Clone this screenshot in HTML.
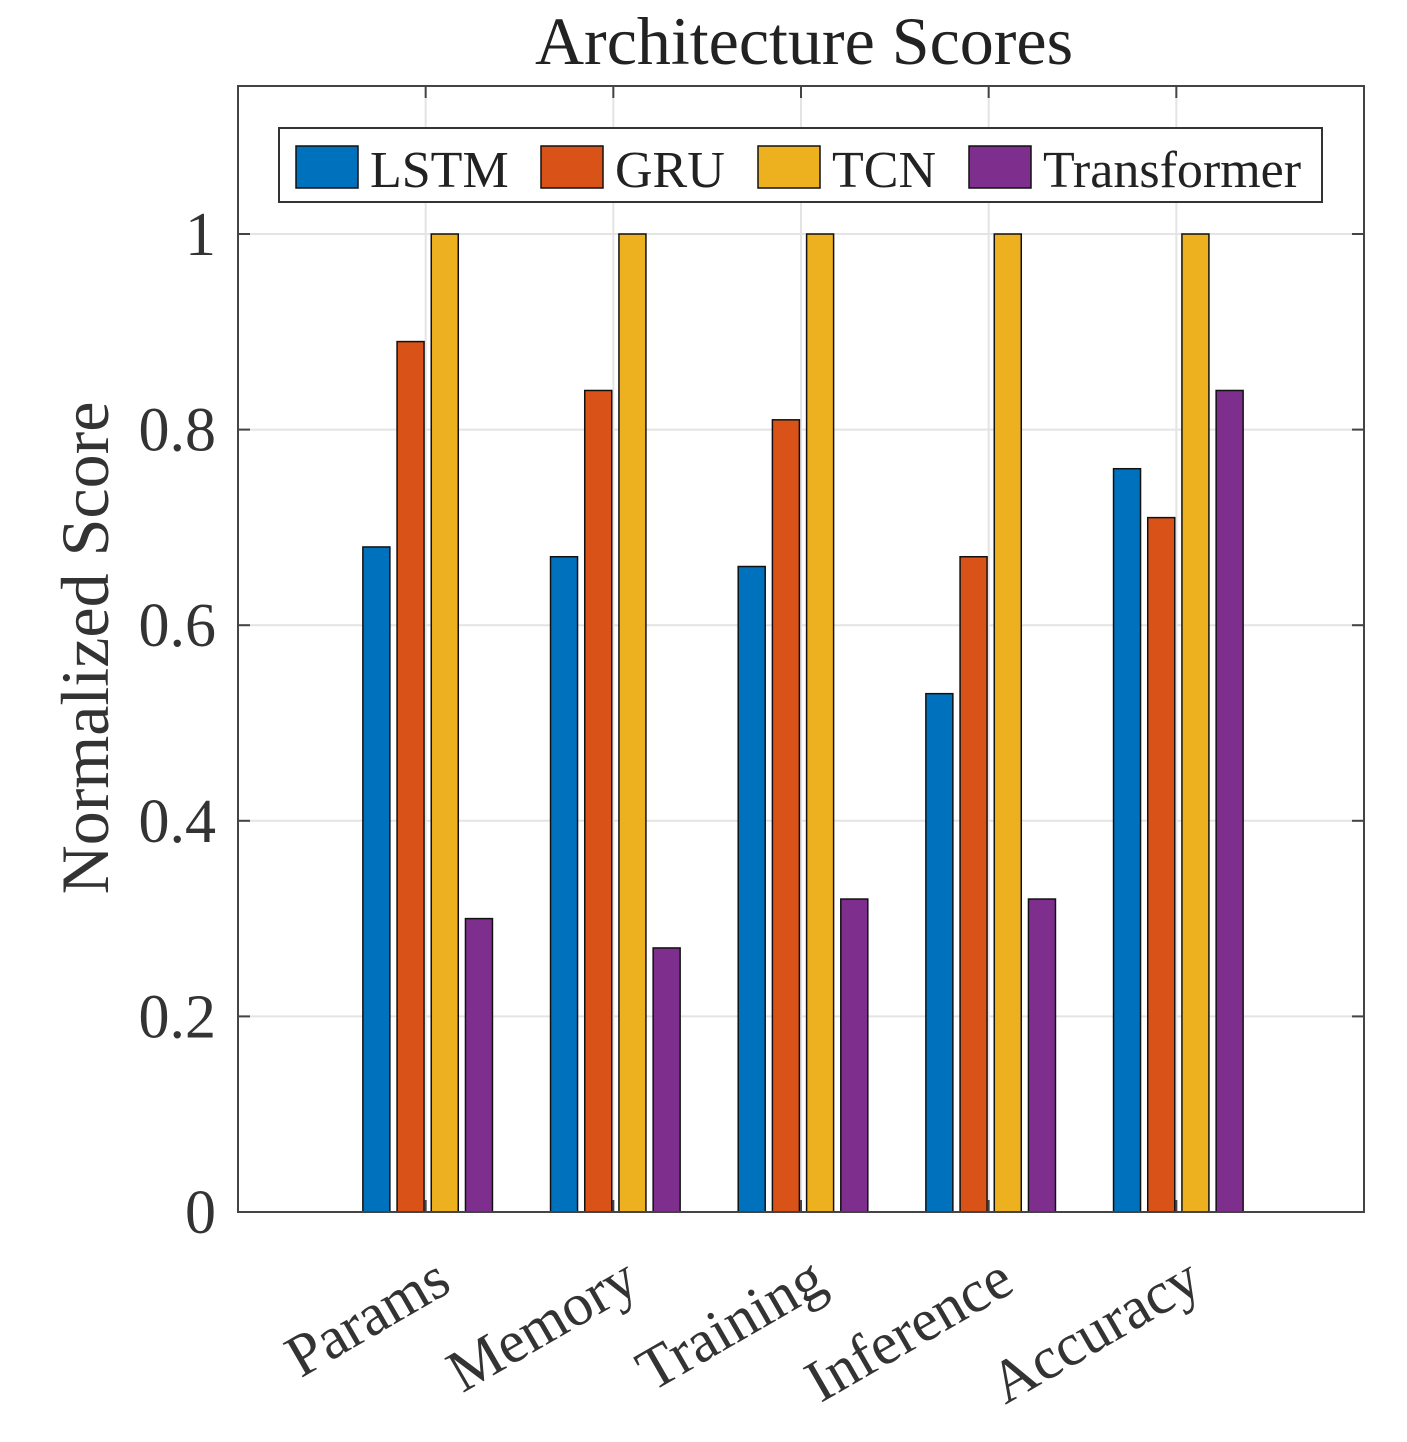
<!DOCTYPE html>
<html><head><meta charset="utf-8"><style>
html,body{margin:0;padding:0;background:#fff;}
svg{display:block;font-family:"Liberation Serif",serif;}
</style></head><body>
<svg id="chart" width="1407" height="1442" viewBox="0 0 1407 1442">
<text x="804" y="64" font-size="68" text-anchor="middle" fill="#222">Architecture Scores</text>
<g id="grid"></g>
<g id="bars"></g>
<g id="axes"></g>
<text transform="translate(108,648) rotate(-90)" font-size="68" text-anchor="middle" fill="#333">Normalized Score</text>
<g id="legend"></g>
</svg>
<script>
const categories = ["Params","Memory","Training","Inference","Accuracy"];
const seriesNames = ["LSTM","GRU","TCN","Transformer"];
const lstm = [0.68,0.67,0.66,0.53,0.76];
const gru = [0.89,0.84,0.81,0.67,0.71];
const tcn = [1,1,1,1,1];
const transformer = [0.30,0.27,0.32,0.32,0.84];
const yTicks = [0,0.2,0.4,0.6,0.8,1];
const yTickLabels = ["0","0.2","0.4","0.6","0.8","1"];
const colors = ["#0072BD","#D95319","#EDB120","#7E2F8E"];
const series = [lstm,gru,tcn,transformer];

const NS="http://www.w3.org/2000/svg";
const L=238,R=1364,T=86,B=1212;
const yMax=(B-T)/978;
const xS=v=>L+(v/6)*(R-L);
const yS=v=>B-(v/yMax)*(B-T);
function mk(tag,attrs,parent){const e=document.createElementNS(NS,tag);for(const k in attrs)e.setAttribute(k,attrs[k]);parent.appendChild(e);return e;}
const grid=document.getElementById('grid'),bars=document.getElementById('bars'),axes=document.getElementById('axes'),legend=document.getElementById('legend');

yTicks.forEach((t,i)=>{
  const y=yS(t);
  if(t>0){const g=mk('line',{x1:L,x2:R,y1:y,y2:y,stroke:'#e4e4e4','stroke-width':2},grid);
  
  }
  const tx=mk('text',{x:L-22,y:y+21,'font-size':62,'text-anchor':'end',fill:'#333'},axes);
  tx.textContent=yTickLabels[i];
  
  
  mk('line',{x1:L,x2:L+12,y1:y,y2:y,stroke:'#444','stroke-width':2},axes);
  mk('line',{x1:R,x2:R-12,y1:y,y2:y,stroke:'#444','stroke-width':2},axes);
});
categories.forEach((c,i)=>{
  const x=xS(i+1);
  mk('line',{x1:x,x2:x,y1:T,y2:B,stroke:'#e4e4e4','stroke-width':2},grid);
  mk('line',{x1:x,x2:x,y1:B,y2:B-12,stroke:'#444','stroke-width':2},axes);
  mk('line',{x1:x,x2:x,y1:T,y2:T+12,stroke:'#444','stroke-width':2},axes);
  const tx=mk('text',{transform:`translate(${x+28},${B+78}) rotate(-30)`,'font-size':60,'text-anchor':'end',fill:'#333'},axes);
  tx.textContent=c;
  
  
  series.forEach((s,j)=>{
    const cx=x+(j-1.5)*34.2+2, w=27;
    const r=mk('rect',{x:cx-w/2,y:yS(s[i]),width:w,height:yS(0)-yS(s[i]),fill:colors[j],stroke:'#111','stroke-width':1.5},bars);
    
    
  });
});
mk('rect',{x:L,y:T,width:R-L,height:B-T,fill:'none',stroke:'#444','stroke-width':2},axes);

mk('rect',{x:279,y:128,width:1043,height:74,fill:'#fff',stroke:'#333','stroke-width':2},legend);
const lx=[296,541,758,969];
seriesNames.forEach((n,j)=>{
  const sw=mk('rect',{x:lx[j],y:146,width:62,height:42,fill:colors[j],stroke:'#111','stroke-width':1.5},legend);
  
  
  const t=mk('text',{x:lx[j]+74,y:187,'font-size':52,fill:'#222'},legend);
  t.textContent=n;
  
  
});
</script>
</body></html>
